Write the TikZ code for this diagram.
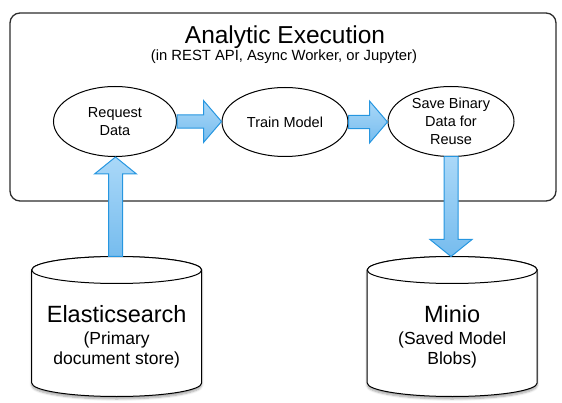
\documentclass[tikz,border=0pt]{standalone}
\usepackage{fontspec}
\setmainfont{Liberation Sans}
\usetikzlibrary{shapes.geometric,calc,shadows.blur}
\definecolor{arrlight}{RGB}{170,216,248}
\definecolor{arrdark}{RGB}{118,188,238}
\definecolor{arrdraw}{RGB}{38,150,224}
\definecolor{linegray}{RGB}{45,45,45}
\tikzset{
  stepell/.style={ellipse, draw=black, line width=1pt, fill=white, align=center,
    font=\fontsize{14.5}{17.75}\selectfont, inner sep=0pt},
  bigarrow/.style={draw=arrdraw, top color=arrlight, bottom color=arrdark, line width=1pt, line join=miter},
  cylbody/.style={draw=black, line width=1pt, fill=white},
  cyltext/.style={align=center, inner sep=0pt, font=\fontsize{17.5}{20}\selectfont},
}
\begin{document}
\begin{tikzpicture}[x=1pt,y=-1pt]
\useasboundingbox (0,0) rectangle (562,403);
% outer container
\draw[rounded corners=10pt, line width=1.3pt, draw=linegray] (10,13) rectangle (556,201);
\node[anchor=base] (title) at (285,44) {\fontsize{24.5}{28}\selectfont Analytic Execution};
\node[anchor=base] (sub) at (284,60.5) {\fontsize{14.8}{17}\selectfont (in REST API, Async Worker, or Jupyter)};
% ellipses
\node[stepell, minimum width=123pt, minimum height=70pt] (rd) at (115,121.5) {Request\\Data};
\node[stepell, minimum width=126pt, minimum height=69pt] (tm) at (285,122) {Train Model};
\node[stepell, minimum width=126pt, minimum height=70pt] (sb) at (451,121.5) {Save Binary\\Data for\\Reuse};
% cylinders
\foreach \cx in {116.7, 452.2}{
  \path[cylbody, blur shadow={shadow xshift=0pt, shadow yshift=-2.5pt, shadow blur steps=6, shadow opacity=35}]
    (\cx-85,270) -- (\cx-85,383) arc[start angle=180, end angle=360, x radius=85pt, y radius=13.5pt]
    -- (\cx+85,270) arc[start angle=0, end angle=180, x radius=85pt, y radius=13.5pt] -- cycle;
  \draw[cylbody] (\cx,270) ellipse[x radius=85pt, y radius=13.5pt];
}
\coordinate (esTop) at (115.5,256.5);
\coordinate (mnTop) at (451,256.5);
\node[cyltext] (es) at (116.7,336.3) {{\fontsize{23.5}{22}\selectfont Elasticsearch}\\[2pt]
  (Primary\\document store)};
\node[cyltext] (mn) at (452.2,336.3) {{\fontsize{23.5}{22}\selectfont Minio}\\[2pt]
  (Saved Model\\Blobs)};
% horizontal arrows
\draw[bigarrow] let \p1=(rd.east), \p2=(tm.west) in
  (\x1,\y1+6.7pt) -- (\x2-18pt,\y1+6.7pt) -- (\x2-18pt,\y1+21pt) -- (\x2,\y1)
  -- (\x2-18pt,\y1-21pt) -- (\x2-18pt,\y1-6.7pt) -- (\x1,\y1-6.7pt) -- cycle;
\draw[bigarrow] let \p1=(tm.east), \p2=(sb.west) in
  (\x1,\y1+6.7pt) -- (\x2-18pt,\y1+6.7pt) -- (\x2-18pt,\y1+21pt) -- (\x2,\y1)
  -- (\x2-18pt,\y1-21pt) -- (\x2-18pt,\y1-6.7pt) -- (\x1,\y1-6.7pt) -- cycle;
% vertical up arrow: Elasticsearch -> Request Data
\draw[bigarrow] let \p1=(esTop), \p2=(rd.south) in
  (\x1-7pt,\y1) -- (\x1-7pt,\y2-17pt) -- (\x1-21pt,\y2-17pt) -- (\x1,\y2)
  -- (\x1+21pt,\y2-17pt) -- (\x1+7pt,\y2-17pt) -- (\x1+7pt,\y1) -- cycle;
% vertical down arrow: Save Binary -> Minio
\draw[bigarrow] let \p1=(mnTop), \p2=(sb.south) in
  (\x1-7pt,\y2+0.5pt) -- (\x1-7pt,\y1+17pt) -- (\x1-21pt,\y1+17pt) -- (\x1,\y1)
  -- (\x1+21pt,\y1+17pt) -- (\x1+7pt,\y1+17pt) -- (\x1+7pt,\y2+0.5pt) -- cycle;
\end{tikzpicture}
\end{document}
